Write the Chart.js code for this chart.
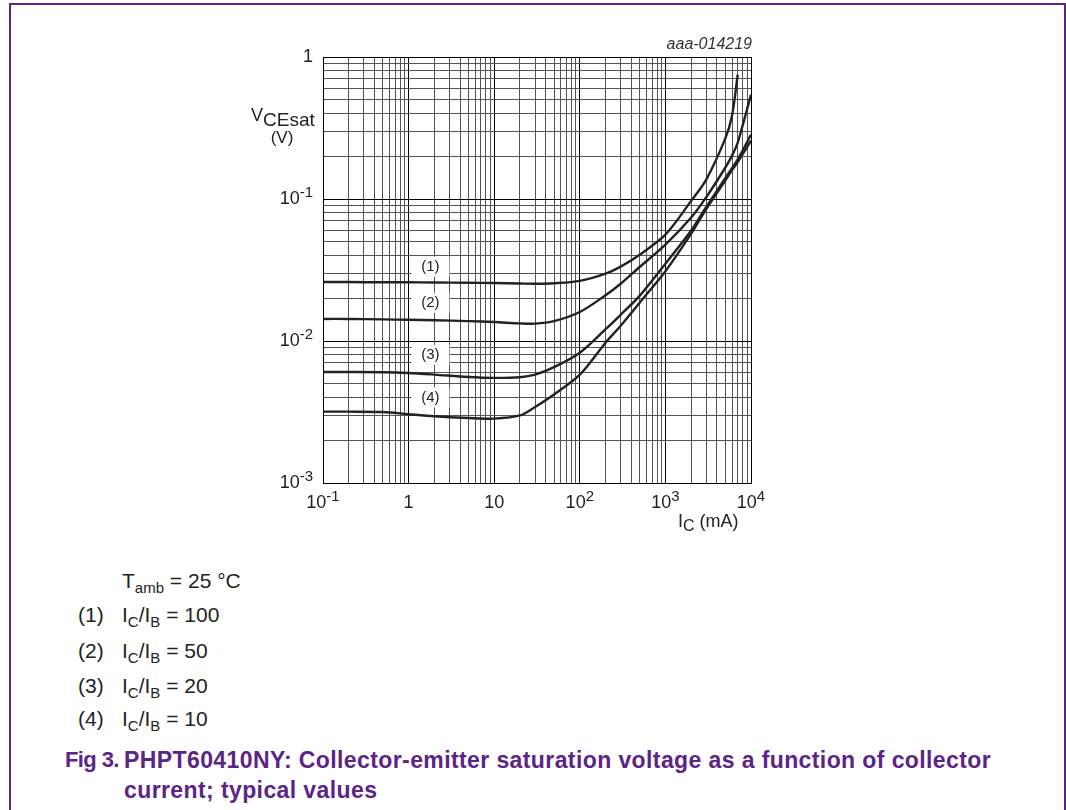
<!DOCTYPE html>
<html>
<head>
<meta charset="utf-8">
<script src="https://cdn.jsdelivr.net/npm/chart.js@4"></script>
<style>
  html, body { margin: 0; padding: 0; background: #fff; }
  body { width: 1066px; height: 810px; position: relative; overflow: hidden; font-family: "Liberation Sans", Arial, sans-serif; color: #222; }
  #frame { position: absolute; left: 9px; top: 3px; width: 1053px; height: 820px; border: 2px solid #5c2487; border-bottom: none; }
  #wrap { position: absolute; left: 0; top: 0; width: 1066px; height: 540px; }
  .leg { position: absolute; font-size: 21px; line-height: 24px; white-space: nowrap; }
  .leg sub { font-size: 15px; vertical-align: -5px; line-height: 0; }
  .cap { position: absolute; font-size: 23px; line-height: 26px; letter-spacing: 0.4px; font-weight: bold; color: #5c2487; white-space: nowrap; }
  .cap.fig { font-size: 22px; letter-spacing: -0.6px; top: 747px; }
</style>
</head>
<body>
<div id="frame"></div>
<div id="wrap"><canvas id="chart" width="1066" height="540"></canvas></div>

<div class="leg" style="left:122px; top:569px;">T<sub>amb</sub> = 25 °C</div>
<div class="leg" style="left:78px; top:603px;">(1)</div>
<div class="leg" style="left:122px; top:603px;">I<sub>C</sub>/I<sub>B</sub> = 100</div>
<div class="leg" style="left:78px; top:639px;">(2)</div>
<div class="leg" style="left:122px; top:639px;">I<sub>C</sub>/I<sub>B</sub> = 50</div>
<div class="leg" style="left:78px; top:674px;">(3)</div>
<div class="leg" style="left:122px; top:674px;">I<sub>C</sub>/I<sub>B</sub> = 20</div>
<div class="leg" style="left:78px; top:707px;">(4)</div>
<div class="leg" style="left:122px; top:707px;">I<sub>C</sub>/I<sub>B</sub> = 10</div>

<div class="cap fig" style="left:65px;">Fig 3.</div>
<div class="cap" style="left:124px; top:747px;">PHPT60410NY: Collector-emitter saturation voltage as a function of collector</div>
<div class="cap" style="left:124px; top:777px;">current; typical values</div>

<script>
// collector current, mA
const currents = [0.1, 0.2, 0.5, 1, 2, 5, 10, 20, 30, 50, 100, 200, 300, 500, 1000, 2000, 3000, 5000, 6000, 7000, 10000];

// VCEsat, V  (null = curve not drawn there)
const vce100 = [0.0260, 0.0260, 0.0259, 0.0259, 0.0258, 0.0257, 0.0256, 0.0254, 0.0253, 0.0255, 0.0265, 0.0298, 0.0334, 0.0405, 0.0561, 0.097, 0.137, 0.266, 0.386, 0.75, null];
const vce50 = [0.0143, 0.0143, 0.0142, 0.0141, 0.0140, 0.0138, 0.0136, 0.0133, 0.01325, 0.0138, 0.0160, 0.021, 0.0253, 0.0332, 0.0477, 0.074, 0.103, 0.166, 0.202, 0.25, 0.543];
const vce20 = [0.00605, 0.00605, 0.00603, 0.00595, 0.0058, 0.00558, 0.0055, 0.00556, 0.00579, 0.00654, 0.00827, 0.0121, 0.0153, 0.0208, 0.035, 0.060, 0.088, 0.14, 0.165, 0.19, 0.284];
const vce10 = [0.00318, 0.00318, 0.00316, 0.00305, 0.00295, 0.00287, 0.00284, 0.00299, 0.00343, 0.0042, 0.00579, 0.00973, 0.0128, 0.0186, 0.031, 0.057, 0.085, 0.135, 0.16, 0.182, 0.2575];

const curveNames = ["(1)", "(2)", "(3)", "(4)"];
const curveLabelI = 1.8;
const curveLabelV = [0.0334, 0.0186, 0.0080, 0.0040];

const xTickVals = [0.1, 1, 10, 100, 1000, 10000];
const xTickBase = ["10", "1", "10", "10", "10", "10"];
const xTickExp = ["-1", "", "", "2", "3", "4"];
const yTickVals = [1, 0.1, 0.01, 0.001];
const yTickBase = ["1", "10", "10", "10"];
const yTickExp = ["", "-1", "-2", "-3"];

const FONT = '"Liberation Sans", Arial, sans-serif';

function pts(vals) {
  return currents.map((c, i) => ({ x: c, y: vals[i] }));
}

function decadeTicks(lo, hi) {
  const out = [];
  for (let e = lo; e < hi; e++) {
    for (let m = 1; m < 10; m++) out.push(m * Math.pow(10, e));
  }
  out.push(Math.pow(10, hi));
  return out;
}

function isDecade(v) {
  const l = Math.log10(v);
  return Math.abs(l - Math.round(l)) < 1e-9;
}

// parts = [[text, 'n'|'sup'|'sub'], ...]
function richWidth(ctx, parts, size, small) {
  let w = 0;
  for (const [t, k] of parts) {
    ctx.font = `${k === "n" ? size : small}px ${FONT}`;
    w += ctx.measureText(t).width;
  }
  return w;
}

function drawRich(ctx, parts, x, y, align, size, small) {
  const w = richWidth(ctx, parts, size, small);
  let cx = align === "right" ? x - w : align === "center" ? x - w / 2 : x;
  ctx.textAlign = "left";
  ctx.textBaseline = "middle";
  for (const [t, k] of parts) {
    ctx.font = `${k === "n" ? size : small}px ${FONT}`;
    const dy = k === "sup" ? -6 : k === "sub" ? 5 : 0;
    ctx.fillText(t, cx, y + dy);
    cx += ctx.measureText(t).width;
  }
}

const textPlugin = {
  id: "texts",
  afterDatasetsDraw(chart) {
    const ctx = chart.ctx;
    const xs = chart.scales.x;
    const ys = chart.scales.y;
    ctx.save();
    // curve tags sit in white boxes over the grid
    ctx.font = `15px ${FONT}`;
    for (let i = 0; i < curveNames.length; i++) {
      const px = xs.getPixelForValue(curveLabelI);
      const py = ys.getPixelForValue(curveLabelV[i]);
      ctx.fillStyle = "#fff";
      ctx.fillRect(px - 19, py - 10, 38, 20);
      ctx.fillStyle = "#222";
      ctx.textAlign = "center";
      ctx.textBaseline = "middle";
      ctx.fillText(curveNames[i], px, py);
    }
    ctx.restore();
  },
  afterDraw(chart) {
    const ctx = chart.ctx;
    const xs = chart.scales.x;
    const ys = chart.scales.y;
    const area = chart.chartArea;
    ctx.save();
    ctx.fillStyle = "#222";
    yTickVals.forEach((v, i) => {
      const parts = [[yTickBase[i], "n"]];
      if (yTickExp[i]) parts.push([yTickExp[i], "sup"]);
      drawRich(ctx, parts, area.left - 10, ys.getPixelForValue(v), "right", 18, 15);
    });
    xTickVals.forEach((v, i) => {
      const parts = [[xTickBase[i], "n"]];
      if (xTickExp[i]) parts.push([xTickExp[i], "sup"]);
      drawRich(ctx, parts, xs.getPixelForValue(v), area.bottom + 20, "center", 18, 15);
    });
    // axis titles
    drawRich(ctx, [["V", "n"], ["CEsat", "sub"]], 251, 116, "left", 18, 19);
    drawRich(ctx, [["(V)", "n"]], 282, 138, "center", 17, 15);
    drawRich(ctx, [["I", "n"], ["C", "sub"], [" (mA)", "n"]], 678, 522, "left", 18, 16);
    ctx.font = `italic 16px ${FONT}`;
    ctx.fillStyle = "#333";
    ctx.textAlign = "right";
    ctx.textBaseline = "middle";
    ctx.fillText("aaa-014219", area.right + 1, 45);
    ctx.restore();
  },
};

function gridColor(c) {
  return c.tick && isDecade(c.tick.value) ? "#000" : "#555";
}

const lineStyle = {
  borderColor: "#222",
  borderWidth: 2.4,
  pointRadius: 0,
  fill: false,
  tension: 0.3,
  spanGaps: false,
};

new Chart(document.getElementById("chart"), {
  type: "line",
  data: {
    datasets: [
      { label: "(1)", data: pts(vce100), ...lineStyle },
      { label: "(2)", data: pts(vce50), ...lineStyle },
      { label: "(3)", data: pts(vce20), ...lineStyle },
      { label: "(4)", data: pts(vce10), ...lineStyle },
    ],
  },
  options: {
    responsive: false,
    animation: false,
    events: [],
    layout: { padding: { left: 323, top: 57, right: 315, bottom: 57 } },
    plugins: { legend: { display: false }, tooltip: { enabled: false } },
    scales: {
      x: {
        type: "logarithmic",
        min: 0.1,
        max: 10000,
        afterBuildTicks: (s) => { s.ticks = decadeTicks(-1, 4).map((v) => ({ value: v })); },
        ticks: { display: false },
        grid: { color: gridColor, lineWidth: 1, drawTicks: false },
        border: { display: true, color: "#000", width: 1 },
      },
      y: {
        type: "logarithmic",
        min: 0.001,
        max: 1,
        afterBuildTicks: (s) => { s.ticks = decadeTicks(-3, 0).map((v) => ({ value: v })); },
        ticks: { display: false },
        grid: { color: gridColor, lineWidth: 1, drawTicks: false },
        border: { display: true, color: "#000", width: 1 },
      },
    },
  },
  plugins: [textPlugin],
});
</script>
</body>
</html>
